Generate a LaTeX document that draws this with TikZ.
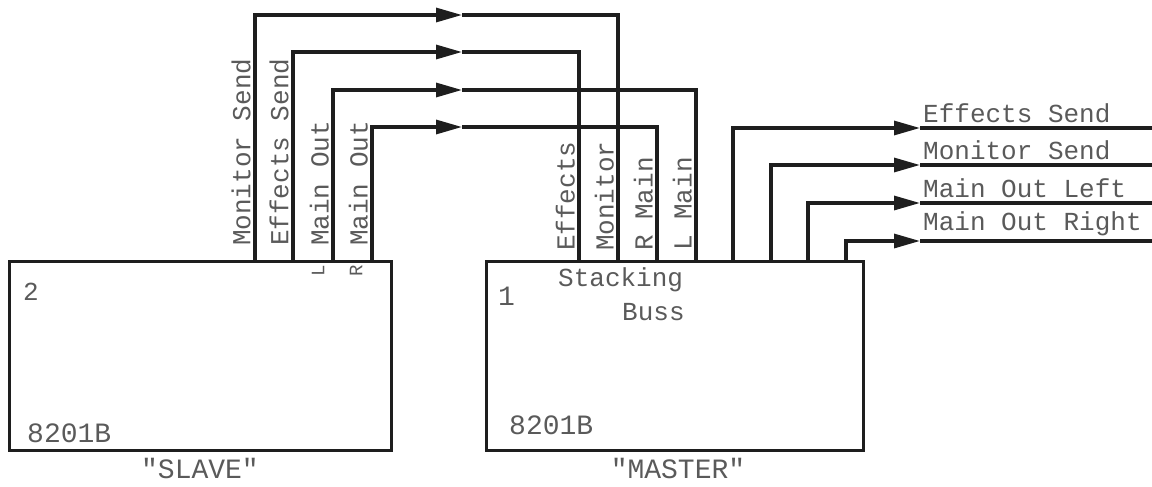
\documentclass[tikz,border=0pt]{standalone}
\usepackage{fontspec}
\setmainfont{Liberation Mono}
\usetikzlibrary{arrows.meta, positioning, calc}
\definecolor{wireink}{HTML}{1E1E1E}
\definecolor{labelink}{HTML}{5A5A5A}

\begin{document}
\begin{tikzpicture}[
  x=1pt, y=-1pt,
  unit/.style={
    rectangle, draw=wireink, line width=3.2pt,
    minimum width=#1, minimum height=189pt,
    anchor=north west, inner sep=0pt
  },
  wire/.style={draw=wireink, line width=3.2pt},
  feed/.style={-{Triangle[length=26pt, width=14pt]}},
  tag/.style={font=\fontsize{26}{28}\selectfont, text=labelink, inner sep=1pt},
  pin/.style={tag, rotate=90, anchor=south west},
  mini/.style={font=\fontsize{19}{20}\selectfont, text=labelink, rotate=90, inner sep=0pt}
]
  \useasboundingbox (0,0) rectangle (1152,487);

  % the two mixers
  \node[unit=382pt] (slave) at (8,260) {};
  \node[unit=377pt] (master) at (485,260) {};

  \node[tag, anchor=west] (slaveno) at (22,292) {2};
  \node[tag, anchor=west, font=\fontsize{28}{30}\selectfont] (slavemodel) at (26,433) {8201B};
  \node[tag, font=\fontsize{28}{30}\selectfont] (slavename) at (200,468) {\textquotedbl SLAVE\textquotedbl};
  \node[mini] (slaveL) at (318,271) {L};
  \node[mini] (slaveR) at (356,271) {R};

  \node[tag, anchor=west, font=\fontsize{28}{30}\selectfont] (masterno) at (497,296) {1};
  \node[tag, anchor=west] (stack) at (557,280) {Stacking};
  \node[tag, anchor=west] (buss) at (621,312) {Buss};
  \node[tag, anchor=west, font=\fontsize{28}{30}\selectfont] (mastermodel) at (508,425) {8201B};
  \node[tag, font=\fontsize{28}{30}\selectfont] (mastername) at (678,468) {\textquotedbl MASTER\textquotedbl};

  % slave outputs
  \coordinate (sMon) at (255,260);
  \coordinate (sEff) at (293,260);
  \coordinate (sL) at (333,260);
  \coordinate (sR) at (372,260);
  % master stacking inputs
  \coordinate (mEff) at (579,260);
  \coordinate (mMon) at (618,260);
  \coordinate (mR) at (657,260);
  \coordinate (mL) at (696,260);
  % arrow points on the top runs
  \coordinate (aMon) at (462,15);
  \coordinate (aEff) at (462,52);
  \coordinate (aL) at (462,90);
  \coordinate (aR) at (462,127);

  \draw[wire, feed] (sMon) |- (aMon);
  \draw[wire] (aMon) -| (mMon);
  \draw[wire, feed] (sEff) |- (aEff);
  \draw[wire] (aEff) -| (mEff);
  \draw[wire, feed] (sL) |- (aL);
  \draw[wire] (aL) -| (mL);
  \draw[wire, feed] (sR) |- (aR);
  \draw[wire] (aR) -| (mR);

  \node[pin] (lblSMon) at (252,247) {Monitor Send};
  \node[pin] (lblSEff) at (290,247) {Effects Send};
  \node[pin] (lblSL) at (330,247) {Main Out};
  \node[pin] (lblSR) at (369,247) {Main Out};

  \node[pin] (lblMEff) at (576,252) {Effects};
  \node[pin] (lblMMon) at (615,252) {Monitor};
  \node[pin] (lblMR) at (654,252) {R Main};
  \node[pin] (lblML) at (693,252) {L Main};

  % master outputs
  \coordinate (oEff) at (733,260);
  \coordinate (oMon) at (771,260);
  \coordinate (oL) at (808,260);
  \coordinate (oR) at (846,260);
  \coordinate (tEff) at (920,128);
  \coordinate (tMon) at (920,165);
  \coordinate (tL) at (920,203);
  \coordinate (tR) at (920,241);
  \coordinate (eEff) at (1152,128);
  \coordinate (eMon) at (1152,165);
  \coordinate (eL) at (1152,203);
  \coordinate (eR) at (1152,241);

  \draw[wire, feed] (oEff) |- (tEff);
  \draw[wire] (tEff) -- (eEff);
  \draw[wire, feed] (oMon) |- (tMon);
  \draw[wire] (tMon) -- (eMon);
  \draw[wire, feed] (oL) |- (tL);
  \draw[wire] (tL) -- (eL);
  \draw[wire, feed] (oR) |- (tR);
  \draw[wire] (tR) -- (eR);

  \node[tag, anchor=south west] (lblOEff) at (922,124) {Effects Send};
  \node[tag, anchor=south west] (lblOMon) at (922,161) {Monitor Send};
  \node[tag, anchor=south west] (lblOL) at (922,199) {Main Out Left};
  \node[tag, anchor=south west] (lblOR) at (922,237) {Main Out Right};
\end{tikzpicture}
\end{document}
